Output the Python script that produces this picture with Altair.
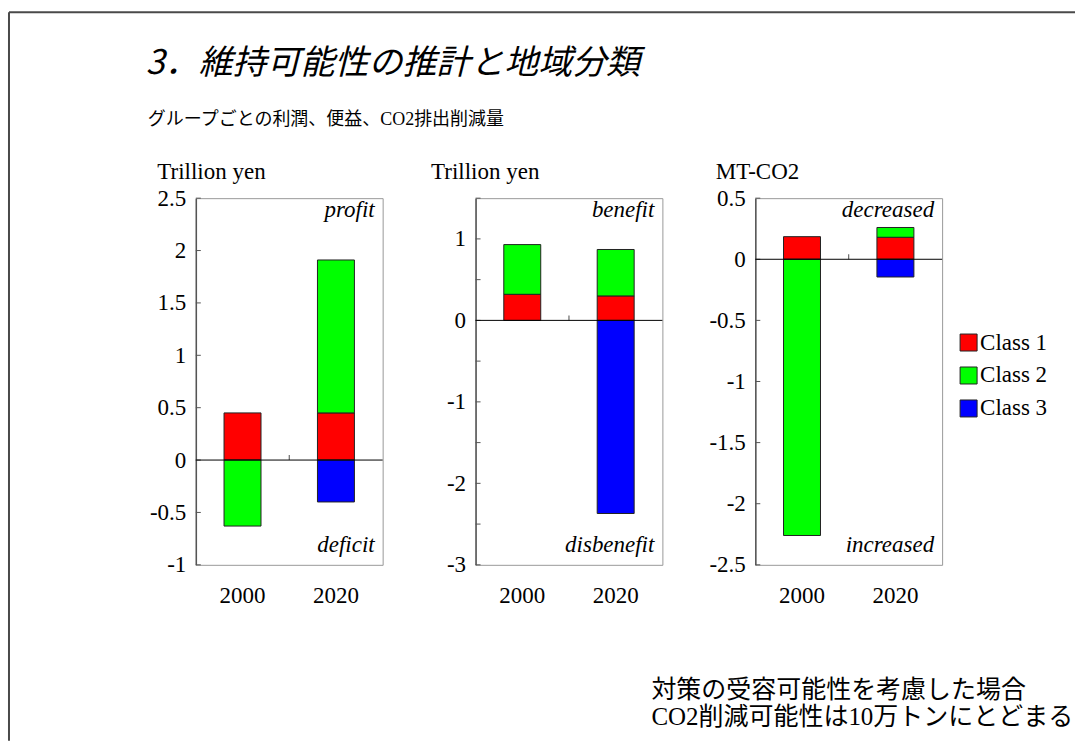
import altair as alt
import pandas as pd

# ---- data ---------------------------------------------------------------
years = ["2000", "2020"]
classes = ["Class 1", "Class 2", "Class 3"]
class_colors = ["#FF0000", "#00FF00", "#0000FF"]

# values per year, ordered [Class 1, Class 2, Class 3]
profit_2000 = [0.45, -0.63, 0.0]
profit_2020 = [0.45, 1.46, -0.40]
benefit_2000 = [0.32, 0.61, 0.0]
benefit_2020 = [0.30, 0.57, -2.37]
co2_2000 = [0.185, -2.26, 0.0]
co2_2020 = [0.18, 0.08, -0.145]

profit_ticks = [-1, -0.5, 0, 0.5, 1, 1.5, 2, 2.5]
benefit_ticks = [-3, -2.5, -2, -1.5, -1, -0.5, 0, 0.5, 1, 1.5]
co2_ticks = [-2.5, -2, -1.5, -1, -0.5, 0, 0.5]

title_text = "3．維持可能性の推計と地域分類"
subtitle_text = "グループごとの利潤、便益、CO2排出削減量"
note_lines = ["対策の受容可能性を考慮した場合", "CO2削減可能性は10万トンにとどまる"]

SERIF = "Liberation Serif"
MIXED = "Liberation Serif, Noto Sans CJK JP"
GOTHIC = "Noto Sans CJK JP"
FS = 23
W, H = 187, 367

hyphen_label = ("datum.value < 0 ? '-' + format(-datum.value, '~g') "
                ": format(datum.value, '~g')")
integer_only = ("datum.value % 1 != 0 ? '' : (" + hyphen_label + ")")


def table(v2000, v2020):
    rows = []
    for year, vals in zip(years, [v2000, v2020]):
        for rank, (cls, v) in enumerate(zip(classes, vals)):
            if v != 0:
                rows.append({"year": year, "cls": cls, "value": v, "rank": rank})
    return pd.DataFrame(rows)


one = pd.DataFrame({"n": [0]})


def note(text, x, y, italic=True, font=SERIF, size=FS, align="right", **kw):
    return alt.Chart(one).mark_text(
        text=text, font=font, fontSize=size, align=align, baseline="alphabetic",
        fontStyle="italic" if italic else "normal", color="black", **kw
    ).encode(x=alt.value(x), y=alt.value(y))


def panel(v2000, v2020, domain, ticks, unit, unit_x, top_word, bottom_word, labels):
    df = table(v2000, v2020)
    bars = alt.Chart(df).mark_bar(size=37, stroke="#222", strokeWidth=1).encode(
        x=alt.X("year:N", sort=years, title=None,
                scale=alt.Scale(paddingInner=0, paddingOuter=0),
                axis=alt.Axis(domain=False, ticks=False, labelAngle=0,
                              labelPadding=20, labelBaseline="top")),
        y=alt.Y("value:Q", stack="zero",
                scale=alt.Scale(domain=domain, nice=False, zero=False),
                axis=alt.Axis(values=ticks, labelExpr=labels, title=unit,
                              titleAngle=0, titleAlign="left",
                              titleBaseline="alphabetic",
                              titleX=unit_x, titleY=-20,
                              ticks=False, labelPadding=10,
                              domainColor="#555", domainWidth=1.5)),
        color=alt.Color("cls:N", scale=alt.Scale(domain=classes, range=class_colors),
                        legend=alt.Legend(orient="none", legendX=762, legendY=133,
                                          title=None, symbolType="square",
                                          symbolSize=289, symbolStrokeColor="#222",
                                          symbolStrokeWidth=1, labelFont=SERIF,
                                          labelFontSize=FS, labelColor="black",
                                          labelOffset=0, rowPadding=9, padding=0)),
        order=alt.Order("rank:Q"),
    )
    inner_ticks = alt.Chart(pd.DataFrame({"value": ticks})).mark_rule(
        color="#555", strokeWidth=1
    ).encode(y="value:Q", x=alt.value(0), x2=alt.value(5))
    zero_line = alt.Chart(one).mark_rule(color="black", strokeWidth=1).encode(
        y=alt.datum(0))
    mid_tick = alt.Chart(one).mark_tick(
        orient="vertical", size=5, thickness=1, color="black", yOffset=-2.5
    ).encode(x=alt.value(W / 2), y=alt.datum(0))
    return [bars, inner_ticks, zero_line, mid_tick,
            note(top_word, 179, 19), note(bottom_word, 179, 354)]


p1_layers = panel(profit_2000, profit_2020, [-1, 2.5], profit_ticks,
                  "Trillion yen", -39, "profit", "deficit", hyphen_label)
p2_layers = panel(benefit_2000, benefit_2020, [-3, 1.5], benefit_ticks,
                  "Trillion yen", -45, "benefit", "disbenefit", integer_only)
p3_layers = panel(co2_2000, co2_2020, [-2.5, 0.5], co2_ticks,
                  "MT-CO2", -40, "decreased", "increased", hyphen_label)

# slide frame, heading, subheading and closing remark (placed from panel 1)
frame_left = alt.Chart(one).mark_rule(color="#4a4a4a", strokeWidth=2).encode(
    x=alt.value(-187), y=alt.value(-186), y2=alt.value(543))
frame_top = alt.Chart(one).mark_rule(color="#4a4a4a", strokeWidth=2).encode(
    x=alt.value(-187), x2=alt.value(880), y=alt.value(-186))
heading = note(title_text, -50, -124, italic=True, font=GOTHIC, size=34, align="left")
subheading = note(subtitle_text, -48, -73, italic=False, font=MIXED, size=18, align="left")
remark = alt.Chart(one).mark_text(
    text=note_lines, font=MIXED, fontSize=25, align="left", baseline="alphabetic",
    lineHeight=27, color="black"
).encode(x=alt.value(456), y=alt.value(500))

p1 = alt.layer(*p1_layers, frame_left, frame_top, heading, subheading, remark
               ).properties(width=W, height=H)
p2 = alt.layer(*p2_layers).properties(width=W, height=H)
p3 = alt.layer(*p3_layers).properties(width=W, height=H)

chart = alt.hconcat(p1, p2, p3, spacing=93, bounds="flush").properties(
    padding={"left": 7, "top": 10, "right": 0, "bottom": 0},
    background="white",
).configure_view(
    stroke="#999", strokeWidth=1
).configure_axis(
    labelFont=SERIF, labelFontSize=FS, labelColor="black",
    titleFont=SERIF, titleFontSize=FS, titleColor="black", titleFontWeight="normal",
    grid=False,
)

chart.save("out.html", embed_options={"renderer": "svg", "actions": False})
